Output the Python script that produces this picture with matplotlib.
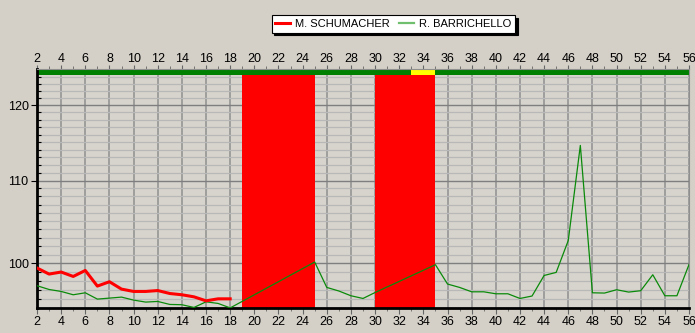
import matplotlib.pyplot as plt
from matplotlib.lines import Line2D
from matplotlib.ticker import MultipleLocator, FixedLocator, NullFormatter, FixedFormatter

plt.rcParams['font.family'] = ['Liberation Sans', 'DejaVu Sans']

# lap times (s)
schumacher_laps = list(range(2, 19))
schumacher_times = [99.45, 98.76, 98.99, 98.49, 99.17, 97.40, 97.89, 97.06, 96.80,
                    96.80, 96.90, 96.57, 96.43, 96.20, 95.76, 95.98, 95.98]

barrichello_laps = list(range(2, 19)) + list(range(25, 31)) + list(range(35, 57))
barrichello_times = [97.44, 97.02, 96.80, 96.43, 96.65, 95.95, 96.06, 96.17, 95.84,
                     95.62, 95.69, 95.36, 95.33, 95.03, 95.65, 95.47, 94.98,
                     100.14, 97.25, 96.85, 96.32, 96.02, 96.68,
                     99.83, 97.63, 97.25, 96.76, 96.76, 96.54, 96.54, 96.02, 96.29,
                     98.60, 98.95, 102.65, 114.55, 96.65, 96.62, 96.99, 96.73, 96.88,
                     98.68, 96.32, 96.32, 99.85]

red_periods = [(19, 25), (30, 35)]
green_flag = [(2, 33), (35, 56)]
yellow_flag = [(33, 35)]

y_low, y_flag, y_high = 94.97, 124.26, 125.1

bg = '#d4d0c8'
fig = plt.figure(figsize=(6.95, 3.33), dpi=100, facecolor=bg)
ax = fig.add_axes([37 / 695, 25 / 333, 652 / 695, 239 / 333])
ax.set_facecolor('#d7d4cd')
ax.set_yscale('log')
ax.set_xlim(2, 56)
ax.set_ylim(y_low, y_high)

# grid
ax.xaxis.set_major_locator(MultipleLocator(2))
ax.xaxis.set_minor_locator(MultipleLocator(1))
ax.yaxis.set_major_locator(FixedLocator([100, 110, 120]))
ax.yaxis.set_major_formatter(FixedFormatter(['100', '110', '120']))
ax.yaxis.set_minor_locator(MultipleLocator(1))
ax.yaxis.set_minor_formatter(NullFormatter())
ax.grid(which='major', axis='x', color='#8f8f8f', lw=1.1, zorder=0)
ax.grid(which='major', axis='y', color='#7f7f7f', lw=1.0, zorder=0)
ax.grid(which='minor', axis='y', color='#b8b8b8', lw=0.9, zorder=0)
ax.set_axisbelow(True)

# red periods and flag bar
ax.broken_barh([(a, b - a) for a, b in red_periods], (y_low, y_flag - y_low),
               facecolor='#ff0000', edgecolor='none', zorder=1)
ax.broken_barh([(a, b - a) for a, b in green_flag], (y_flag, y_high - y_flag),
               facecolor='#008000', edgecolor='none', zorder=1)
ax.broken_barh([(a, b - a) for a, b in yellow_flag], (y_flag, y_high - y_flag),
               facecolor='#ffff00', edgecolor='none', zorder=1)

ax.plot(barrichello_laps, barrichello_times, color='#0a8a0a', lw=0.9, zorder=3)
ax.plot(schumacher_laps, schumacher_times, color='#ff0000', lw=2.2, zorder=3)

# axes frame and ticks
for s in ['left', 'bottom']:
    ax.spines[s].set_color('black')
    ax.spines[s].set_linewidth(2)
for s in ['top', 'right']:
    ax.spines[s].set_color('#8f8f8f')
    ax.spines[s].set_linewidth(0.8)
ax.tick_params(axis='x', which='major', length=4, width=0.8, color='#666666',
               labelsize=9, pad=2)
ax.tick_params(axis='x', which='minor', length=2, width=0.6, color='#666666')
ax.tick_params(axis='y', which='major', length=4, width=0.8, labelsize=9, pad=2)
ax.tick_params(axis='y', which='minor', direction='in', length=3, width=0.8)

top = ax.secondary_xaxis('top')
top.xaxis.set_major_locator(MultipleLocator(2))
top.xaxis.set_minor_locator(MultipleLocator(1))
top.spines['top'].set_visible(False)
top.tick_params(which='major', length=3, width=0.8, color='#666666', labelsize=9, pad=0)
top.tick_params(which='minor', length=2, width=0.6, color='#666666')

handles = [Line2D([], [], color='#ff0000', lw=2.2),
           Line2D([], [], color='#6fbf6f', lw=1.6)]
leg = fig.legend(handles, ['M. SCHUMACHER', 'R. BARRICHELLO'], loc='center',
                 bbox_to_anchor=(0.566, 0.929), ncol=2, fontsize=8,
                 fancybox=False, edgecolor='black', framealpha=1,
                 shadow={'color': 'black', 'alpha': 1},
                 handlelength=1.3, handletextpad=0.5, columnspacing=0.8,
                 borderpad=0.35)
leg.get_frame().set_linewidth(0.8)

plt.savefig('out.png', dpi=100, facecolor=bg)
